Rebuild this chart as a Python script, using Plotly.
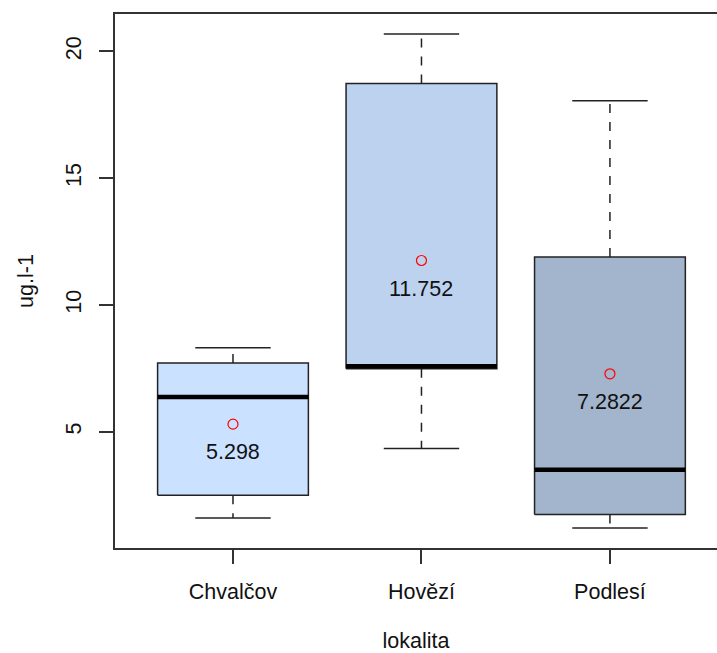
import plotly.graph_objects as go

# Summary statistics per site (ug.l-1)
lokality = ["Chvalčov", "Hovězí", "Podlesí"]
dolni_vous = [1.60, 4.34, 1.20]
q1 = [2.49, 7.48, 1.73]
median = [6.37, 7.58, 3.50]
q3 = [7.71, 18.73, 11.89]
horni_vous = [8.31, 20.69, 18.05]
prumer = [5.298, 11.752, 7.2822]
barvy = ["#CAE1FF", "#BCD2EE", "#A2B5CD"]

y_ticks = [5, 10, 15, 20]
y_range = [0.412, 21.475]

half_box = 0.4
half_cap = 0.2
font = "Liberation Sans, Arial, sans-serif"
fs = 21.5
txt = "#111111"

fig = go.Figure()

for i, name in enumerate(lokality):
    x = i + 1
    # dashed whiskers
    fig.add_trace(go.Scatter(
        x=[x, x, None, x, x],
        y=[q3[i], horni_vous[i], None, q1[i], dolni_vous[i]],
        mode="lines", line=dict(color="#222222", width=1.5, dash="dash"),
        hoverinfo="skip", showlegend=False))
    # whisker caps
    fig.add_trace(go.Scatter(
        x=[x - half_cap, x + half_cap, None, x - half_cap, x + half_cap],
        y=[horni_vous[i], horni_vous[i], None, dolni_vous[i], dolni_vous[i]],
        mode="lines", line=dict(color="#222222", width=1.5),
        hoverinfo="skip", showlegend=False))
    # box
    fig.add_trace(go.Scatter(
        x=[x - half_box, x + half_box, x + half_box, x - half_box, x - half_box],
        y=[q1[i], q1[i], q3[i], q3[i], q1[i]],
        mode="lines", fill="toself", fillcolor=barvy[i],
        line=dict(color="#222222", width=1.5),
        hoverinfo="skip", showlegend=False))
    # median
    fig.add_trace(go.Scatter(
        x=[x - half_box, x + half_box], y=[median[i], median[i]],
        mode="lines", line=dict(color="black", width=4.5),
        hoverinfo="skip", showlegend=False))

# means
fig.add_trace(go.Scatter(
    x=[1, 2, 3], y=prumer, mode="markers",
    marker=dict(symbol="circle-open", size=10, color="#FF0000", line=dict(width=1.2)),
    showlegend=False))

for i, m in enumerate(prumer):
    fig.add_annotation(x=i + 1, y=m, text=str(m), showarrow=False,
                       yshift=-28, font=dict(family=font, size=fs, color=txt))

fig.update_layout(
    width=717, height=653,
    margin=dict(l=115, r=0, t=14, b=105),
    plot_bgcolor="white", paper_bgcolor="white",
    font=dict(family=font, size=fs, color=txt),
    xaxis=dict(
        range=[0.374, 3.568], tickvals=[1, 2, 3], ticktext=lokality,
        showgrid=False, zeroline=False,
        showline=True, mirror=True, linecolor="#333333", linewidth=1.5,
        ticks="outside", ticklen=14, tickwidth=1.5, tickcolor="#333333",
        ticklabelstandoff=9,
        tickfont=dict(family=font, size=fs, color=txt),
        title=dict(text="lokalita", standoff=30,
                   font=dict(family=font, size=fs, color=txt)),
    ),
    yaxis=dict(
        range=y_range, tickvals=y_ticks,
        showgrid=False, zeroline=False,
        showline=True, mirror=False, linecolor="#333333", linewidth=1.5,
        ticks="outside", ticklen=14, tickwidth=1.5, tickcolor="#333333",
        tickangle=-90, ticklabelstandoff=10,
        tickfont=dict(family=font, size=fs, color=txt),
        title=dict(text="ug.l-1", standoff=22,
                   font=dict(family=font, size=fs, color=txt)),
    ),
)

fig.write_html("out.html")
